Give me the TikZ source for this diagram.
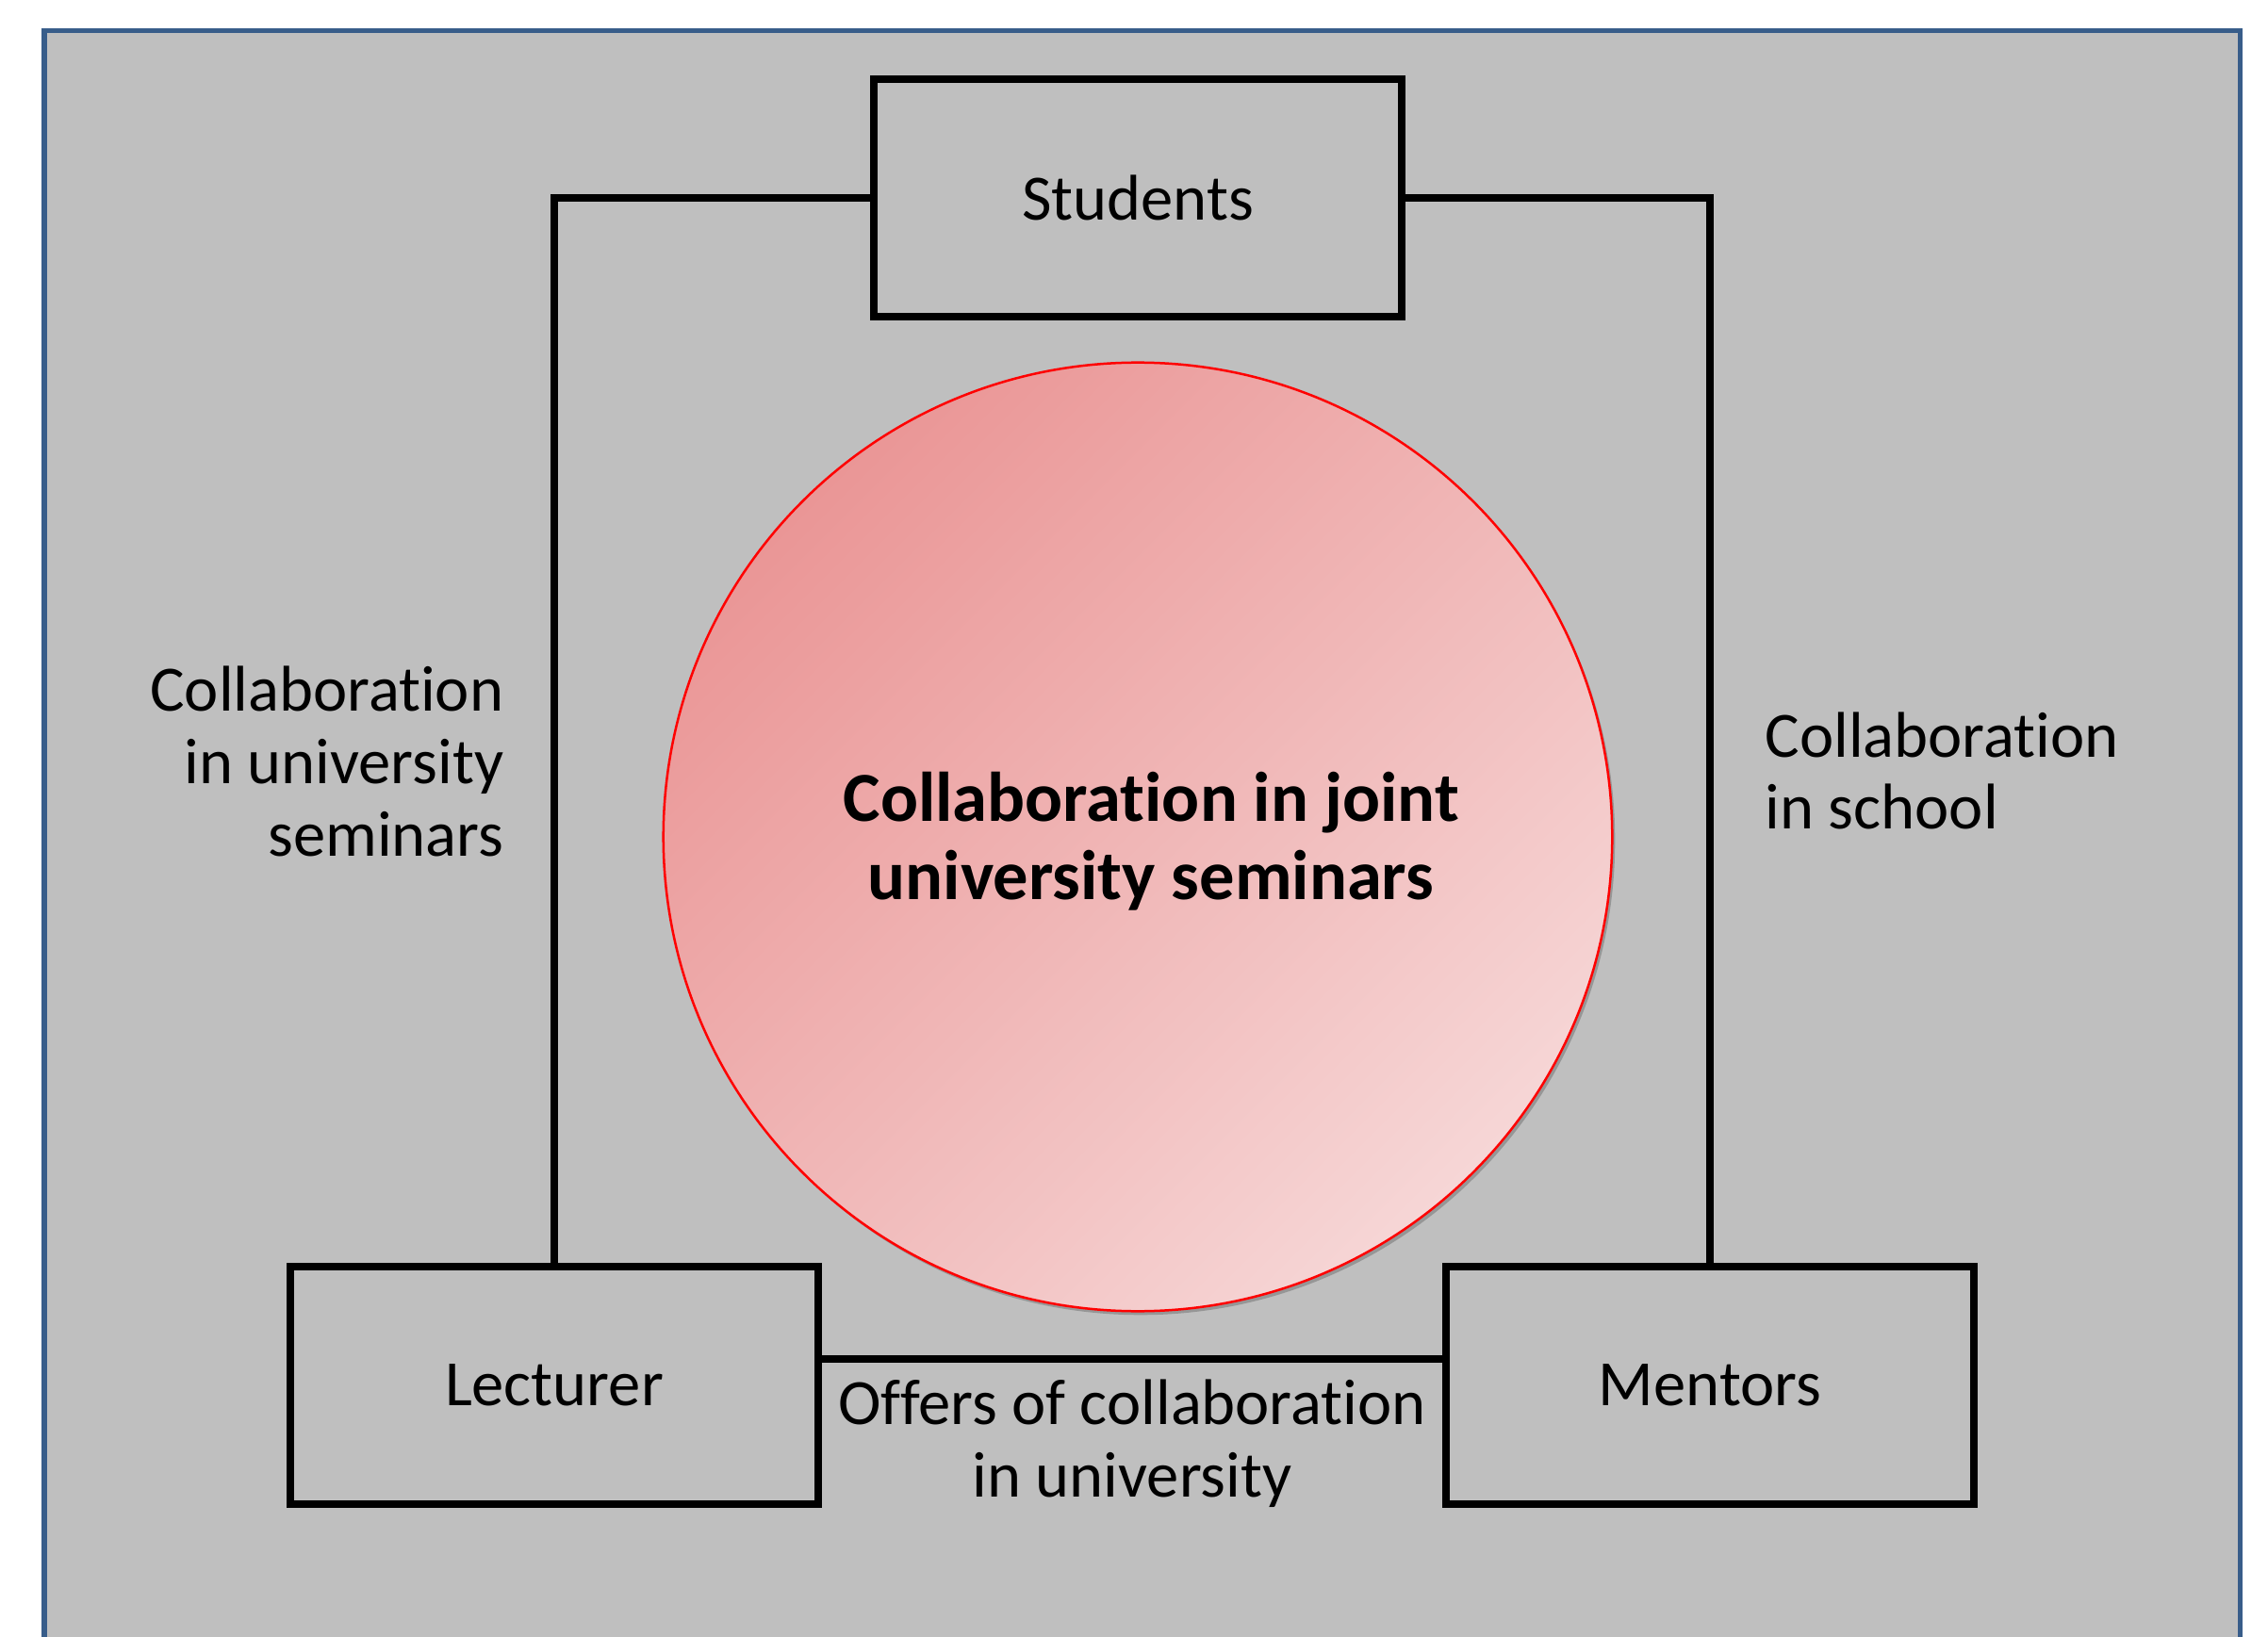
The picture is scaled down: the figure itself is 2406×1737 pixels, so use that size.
\documentclass[tikz,border=0pt]{standalone}
\usepackage{fontspec}
\setmainfont[Ligatures=NoCommon]{Carlito}
\usetikzlibrary{shadows}
\definecolor{bgGray}{RGB}{191,191,191}
\definecolor{frameBlue}{RGB}{56,93,138}
\definecolor{pinkDark}{RGB}{234,150,150}
\definecolor{pinkLight}{RGB}{246,214,214}
\tikzset{
  px/.style={x=0.01cm,y=-0.01cm},
  actor/.style={draw=black, line width=0.085cm, fill=bgGray, minimum width=5.6cm, minimum height=2.52cm, inner sep=0pt, font=\fontsize{19.5pt}{21.8pt}\selectfont},
  link/.style={draw=black, line width=0.085cm},
  lbl/.style={inner sep=0pt, font=\fontsize{19.5pt}{21.8pt}\selectfont},
  boldlbl/.style={inner sep=0pt, align=center, font=\fontsize{21.2pt}{23.6pt}\selectfont\bfseries}
}
\begin{document}
\begin{tikzpicture}[px]
\useasboundingbox (0,0) rectangle (2406,1737);
\fill[white] (0,0) rectangle (2406,1737);
\begin{scope}
\clip (0,0) rectangle (2406,1737);
\draw[draw=frameBlue, fill=bgGray, line width=0.05cm] (47,33) rectangle (2376,1800);
\end{scope}
% central circle
\shade[draw=red, line width=0.025cm, top color=pinkDark, bottom color=pinkLight, shading angle=45,
  drop shadow={shadow xshift=0.03cm, shadow yshift=-0.04cm, opacity=0.35, fill=black!70}]
  (1207,888) circle[radius=5.03cm];
\node[boldlbl] (centre) at (1221,893) {Collaboration in joint\\university seminars};
% actors
\node[actor] (students) at (1207,210) {Students};
\node[actor] (lecturer) at (588,1470) {Lecturer};
\node[actor] (mentors) at (1814,1470) {Mentors};
% connectors
\draw[link] (students.west) -| (lecturer.north);
\draw[link] (students.east) -| (mentors.north);
\draw[link] ([yshift=0.28cm]lecturer.east) -- ([yshift=0.28cm]mentors.west);
% labels
\node[lbl, anchor=east, align=right] (lblUni) at (535,808) {Collaboration\\in university\\seminars};
\node[lbl, anchor=west, align=left] (lblSchool) at (1872,818) {Collaboration\\in school};
\node[lbl, align=center] (lblOffers) at (1201,1532) {Offers of collaboration\\in university};
\end{tikzpicture}
\end{document}
